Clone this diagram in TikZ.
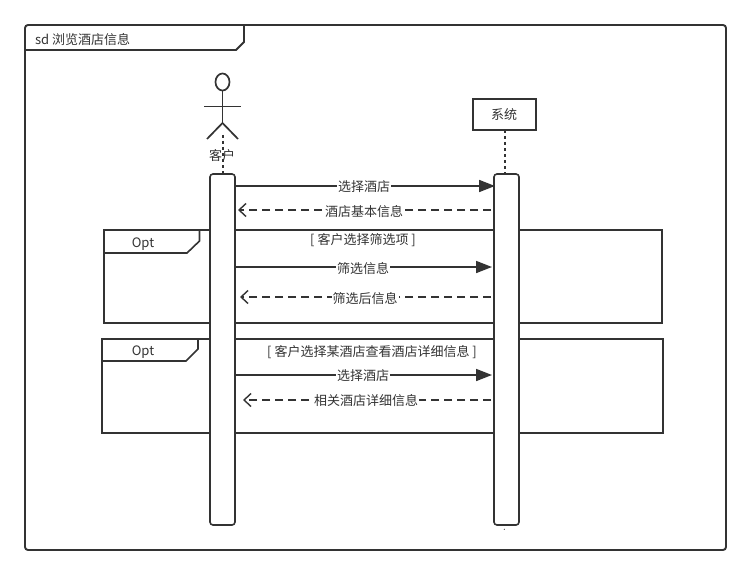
\documentclass[tikz,border=0pt]{standalone}
\usepackage{fontspec}
\setmainfont{Noto Sans CJK SC}
\usetikzlibrary{arrows.meta}
\definecolor{ink}{HTML}{333333}
\tikzset{
  x=1pt,y=-1pt,
  thin line/.style={draw=ink,line width=1.7pt},
  frag/.style={draw=ink,line width=1.6pt},
  activation/.style={draw=ink,line width=1.6pt,fill=white,rounded corners=3pt,minimum width=25pt,minimum height=351pt,inner sep=0pt,outer sep=0pt},
  sysbox/.style={draw=ink,line width=2pt,fill=white,minimum width=63pt,minimum height=31pt,inner sep=0pt,outer sep=0pt,text=ink,font=\fontsize{13}{15}\selectfont},
  txt/.style={text=ink,font=\fontsize{13}{15}\selectfont,inner sep=0pt,outer sep=0pt},
  msglabel/.style={txt,fill=white,inner xsep=1pt,inner ysep=1pt},
  call/.style={draw=ink,line width=1.7pt,-{Triangle[length=16pt,width=12pt,fill=ink]}},
  back/.style={draw=ink,line width=1.5pt,dash pattern=on 8pt off 5pt,-{Straight Barb[length=7pt,width=13pt,line width=1.4pt]}},
  life/.style={draw=ink,line width=2pt,dash pattern=on 3pt off 3pt},
}
\begin{document}
\begin{tikzpicture}
\useasboundingbox (0,0) rectangle (752,575);
\fill[white] (0,0) rectangle (752,575);
% outer frame
\draw[draw=ink,line width=1.9pt,rounded corners=3pt] (25,25) rectangle (726,550);
\draw[draw=ink,line width=1.9pt] (25,50) -- (236,50) -- (244,42) -- (244,25);
\node[txt,anchor=west] (title) at (35,39.5) {sd 浏览酒店信息};
% opt fragments
\draw[frag] (104,230) rectangle (662,323);
\draw[frag] (104,253) -- (187,253) -- (199.5,241) -- (199.5,230);
\node[txt] (opta) at (143,244) {Opt};
\draw[frag] (102,339) rectangle (663,433);
\draw[frag] (102,361) -- (186,361) -- (198,349) -- (198,339);
\node[txt] (optb) at (143,352) {Opt};
% actor
\draw[thin line] (222.5,82) ellipse (7 and 8.5);
\draw[thin line] (222.5,90.5) -- (222.5,123);
\draw[thin line] (204,106.5) -- (241,106.5);
\draw[thin line] (207,139) -- (222.5,123) -- (238,139);
% system
\node[sysbox] (sys) at (504,114.5) {系统};
% activations
\node[activation] (acta) at (222.5,349.5) {};
\node[activation] (actb) at (506.5,349.5) {};
\coordinate (lifea) at (222.5,135);
\coordinate (lifeb) at (504.5,174);
\draw[life] (lifea) -- (lifea |- acta.north);
\draw[life] (sys.south -| lifeb) -- (lifeb);
\node[txt] (client) at (222,156) {客户};
\fill[ink] (504.3,529.3) circle (0.6);
% guards
\node[txt] (ga) at (363,240) {[ 客户选择筛选项 ]};
\node[txt] (gb) at (372,352) {[ 客户选择某酒店查看酒店详细信息 ]};
% messages
\coordinate (m1s) at (235,186); \coordinate (m1e) at (495,186);
\coordinate (r1s) at (491,210); \coordinate (r1e) at (238,210);
\coordinate (m2s) at (235,267); \coordinate (m2e) at (492,267);
\coordinate (r2s) at (491,297); \coordinate (r2e) at (240,297);
\coordinate (m3s) at (235,375); \coordinate (m3e) at (492,375);
\coordinate (r3s) at (491,400); \coordinate (r3e) at (243,400);
\draw[call] (m1s) -- (m1e);
\node[msglabel] (l1) at (364,187) {选择酒店};
\draw[back] (r1s) -- (r1e);
\node[msglabel] (l2) at (364,211.5) {酒店基本信息};
\draw[call] (m2s) -- (m2e);
\node[msglabel] (l3) at (363,268.5) {筛选信息};
\draw[back] (r2s) -- (r2e);
\node[msglabel] (l4) at (365,298.5) {筛选后信息};
\draw[call] (m3s) -- (m3e);
\node[msglabel] (l5) at (363,376) {选择酒店};
\draw[back] (r3s) -- (r3e);
\node[msglabel] (l6) at (366,401) {相关酒店详细信息};
\end{tikzpicture}
\end{document}
